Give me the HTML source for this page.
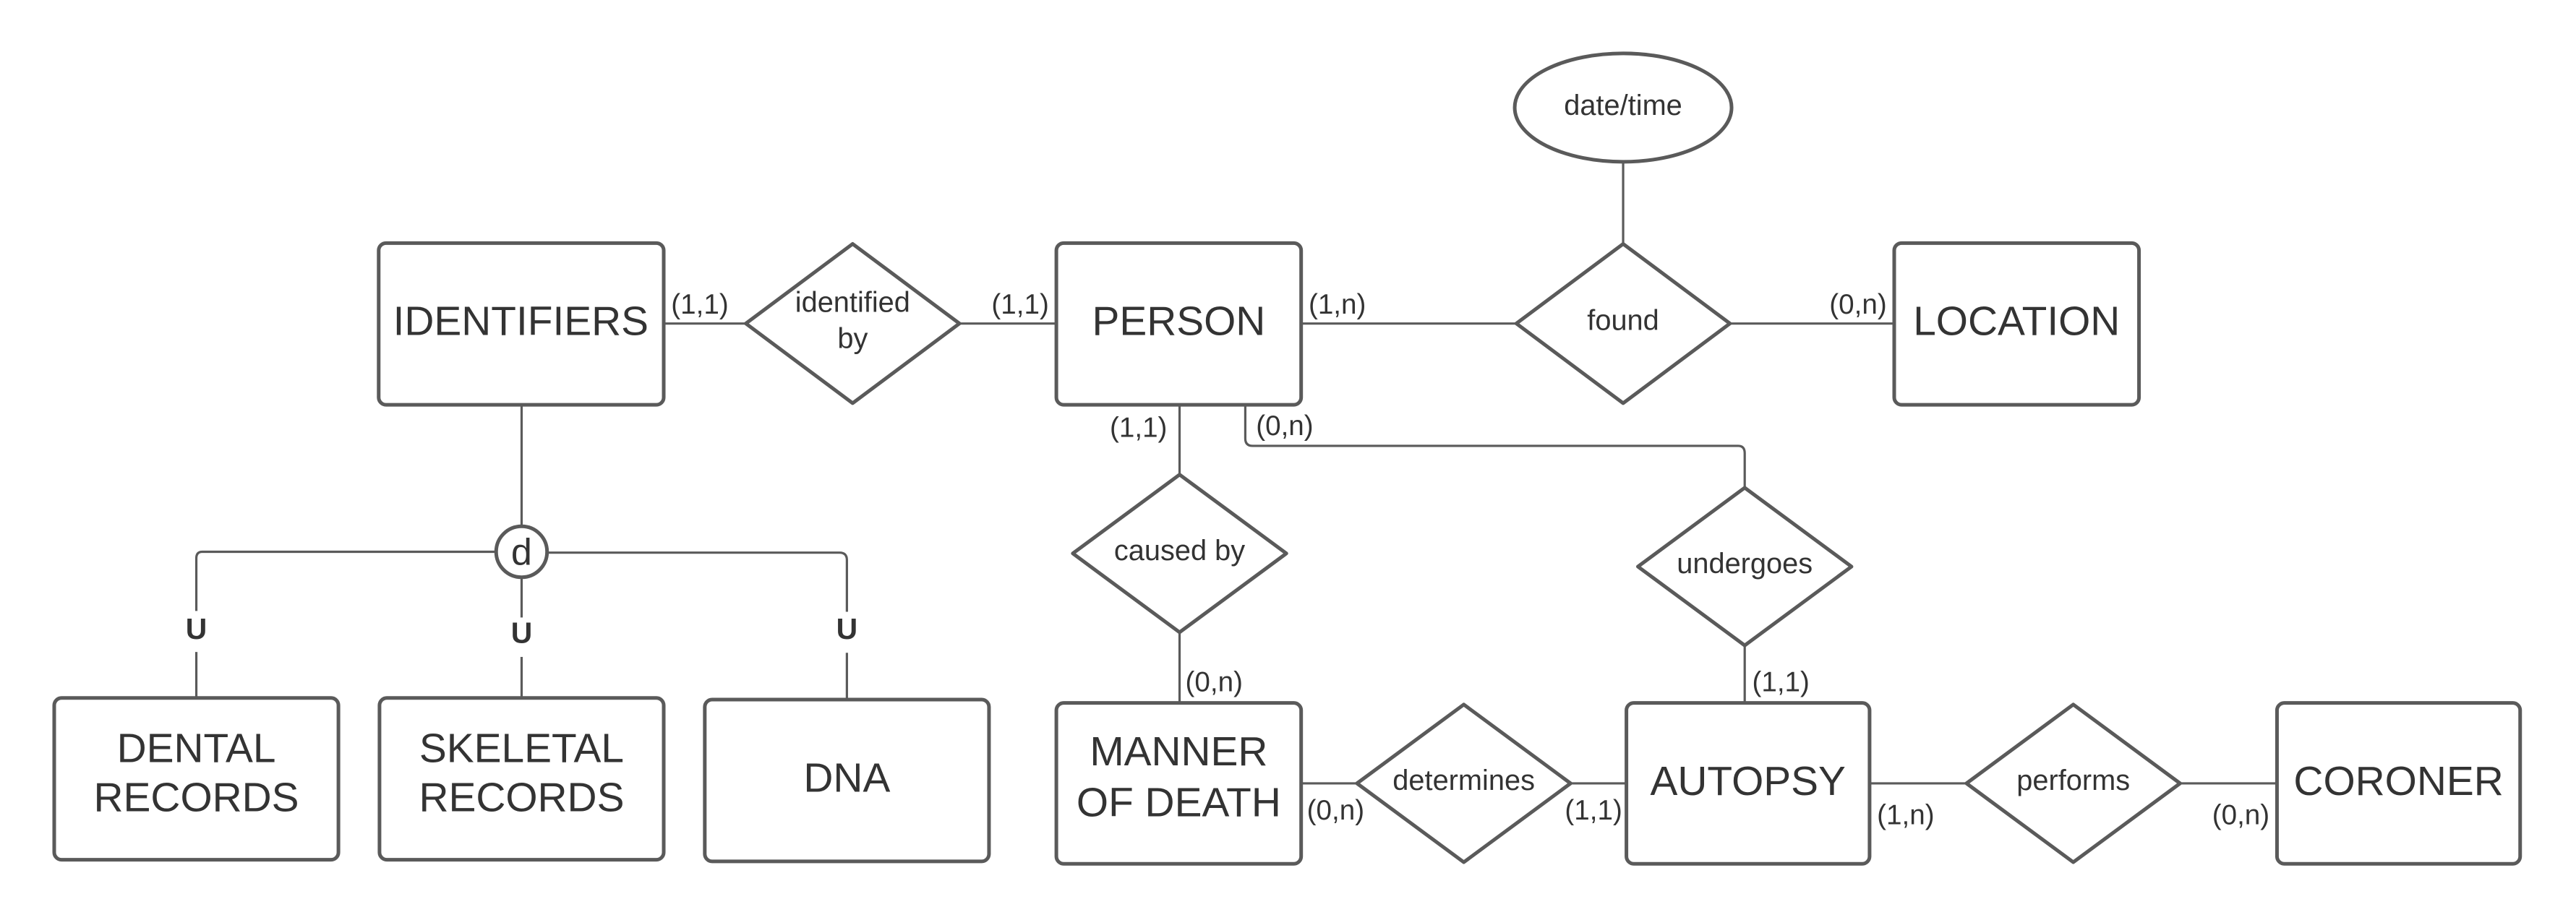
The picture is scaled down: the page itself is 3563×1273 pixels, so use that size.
<!DOCTYPE html>
<html><head><meta charset="utf-8"><style>
html,body{margin:0;padding:0;background:#fff;}
svg{display:block;}
text{font-family:"Liberation Sans",sans-serif;fill:#333;}
</style></head><body>
<svg width="3563" height="1273" viewBox="0 0 1568 560.2" preserveAspectRatio="none">
<g fill="none" stroke="#5a5a5a" stroke-width="1.4" stroke-linejoin="round">
<line x1="404" y1="197" x2="454" y2="197"/>
<line x1="584" y1="197" x2="643" y2="197"/>
<line x1="792" y1="197" x2="923" y2="197"/>
<line x1="1053" y1="197" x2="1153" y2="197"/>
<line x1="988" y1="98" x2="988" y2="148"/>
<line x1="317.5" y1="246" x2="317.5" y2="321"/>
<path d="M302 336 H123 Q119.5 336 119.5 340 V372"/>
<line x1="119.5" y1="397" x2="119.5" y2="425"/>
<line x1="317.5" y1="351" x2="317.5" y2="376"/>
<line x1="317.5" y1="400" x2="317.5" y2="425"/>
<path d="M333 336.5 H511 Q515.5 336.5 515.5 341 V372.5"/>
<line x1="515.5" y1="397.5" x2="515.5" y2="426"/>
<line x1="718" y1="246" x2="718" y2="289"/>
<line x1="718" y1="385" x2="718" y2="428"/>
<path d="M758 246 V267 Q758 271.5 762.5 271.5 H1058 Q1062 271.5 1062 276 V297"/>
<line x1="1062" y1="393" x2="1062" y2="428"/>
<line x1="792" y1="477" x2="826" y2="477"/>
<line x1="956" y1="477" x2="990" y2="477"/>
<line x1="1138" y1="477" x2="1197" y2="477"/>
<line x1="1327" y1="477" x2="1386" y2="477"/>
</g>
<g fill="#fff" stroke="#5a5a5a" stroke-width="2.2" stroke-linejoin="round">
<rect x="230.5" y="148" width="173.5" height="98.5" rx="4.5"/>
<rect x="643" y="148" width="149" height="98.5" rx="4.5"/>
<rect x="1153" y="148" width="149" height="98.5" rx="4.5"/>
<rect x="33" y="425" width="173" height="98.5" rx="4.5"/>
<rect x="231" y="425" width="173" height="98.5" rx="4.5"/>
<rect x="429" y="426" width="173" height="98.5" rx="4.5"/>
<rect x="643" y="428" width="149" height="98" rx="4.5"/>
<rect x="990" y="428" width="148" height="98" rx="4.5"/>
<rect x="1386" y="428" width="148" height="98" rx="4.5"/>
<polygon points="519,148.5 584,197 519,245.5 454,197"/>
<polygon points="988,148.5 1053,197 988,245.5 923,197"/>
<polygon points="718,289 783,337 718,385 653,337"/>
<polygon points="1062,297 1127,345 1062,393 997,345"/>
<polygon points="891,429 956,477 891,525 826,477"/>
<polygon points="1262,429 1327,477 1262,525 1197,477"/>
<ellipse cx="988" cy="65.5" rx="66" ry="33"/>
<circle cx="317.5" cy="336" r="15.5"/>
</g>
<g text-anchor="middle" font-size="25">
<text x="317" y="204">IDENTIFIERS</text>
<text x="717.5" y="204">PERSON</text>
<text x="1227.5" y="204">LOCATION</text>
<text x="119.5" y="464">DENTAL</text>
<text x="119.5" y="494">RECORDS</text>
<text x="317.5" y="464">SKELETAL</text>
<text x="317.5" y="494">RECORDS</text>
<text x="515.5" y="482">DNA</text>
<text x="717.5" y="466">MANNER</text>
<text x="717.5" y="497">OF DEATH</text>
<text x="1064" y="484">AUTOPSY</text>
<text x="1460" y="484">CORONER</text>
<text x="317.5" y="344" font-size="23">d</text>
</g>
<g text-anchor="middle" font-size="17.5">
<text x="519" y="190">identified</text>
<text x="519" y="212">by</text>
<text x="988" y="201">found</text>
<text x="988" y="70">date/time</text>
<text x="718" y="341">caused by</text>
<text x="1062" y="349">undergoes</text>
<text x="891" y="481">determines</text>
<text x="1262" y="481">performs</text>
</g>
<g text-anchor="middle" font-size="18" font-weight="bold">
<text x="119.5" y="389">U</text>
<text x="317.5" y="391.5">U</text>
<text x="515.5" y="389">U</text>
</g>
<g text-anchor="middle" font-size="17">
<text x="426" y="191">(1,1)</text>
<text x="621" y="191">(1,1)</text>
<text x="814" y="191">(1,n)</text>
<text x="1131" y="191">(0,n)</text>
<text x="693" y="266">(1,1)</text>
<text x="782" y="265">(0,n)</text>
<text x="739" y="421">(0,n)</text>
<text x="1084" y="421">(1,1)</text>
<text x="813" y="499">(0,n)</text>
<text x="970" y="499">(1,1)</text>
<text x="1160" y="502">(1,n)</text>
<text x="1364" y="502">(0,n)</text>
</g>
</svg>
</body></html>
